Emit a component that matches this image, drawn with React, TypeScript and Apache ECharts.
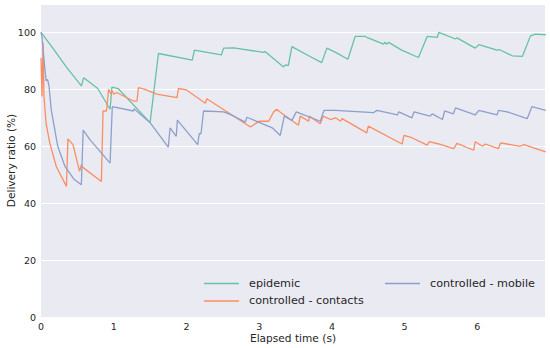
import React, { useEffect, useRef } from "react";
import * as echarts from "echarts";

const xTicks = [0, 1, 2, 3, 4, 5, 6];
const yTicks = [0, 20, 40, 60, 80, 100];

const epidemic: [number, number][] = [
  [0, 100], [0.14, 95.3], [0.35, 87.8], [0.555, 81.2], [0.587, 84.1], [0.78, 80.3],
  [0.95, 73], [0.975, 80.8], [1.06, 80.3], [1.5, 68.3], [1.615, 92.6], [2.08, 90.3],
  [2.11, 93.8], [2.48, 92.1], [2.51, 94.5], [2.65, 94.6], [3.06, 93], [3.08, 93.3],
  [3.335, 87.9], [3.36, 88.6], [3.4, 88.3], [3.45, 95], [3.68, 91.8], [3.86, 89.4],
  [3.93, 94.5], [4.05, 93], [4.22, 90.6], [4.32, 98.6], [4.46, 98.6], [4.48, 98.3],
  [4.71, 95.9], [4.73, 96.6], [4.75, 95.9], [4.78, 96.5], [4.96, 93.8], [5.19, 91.2],
  [5.31, 98.6], [5.45, 98.3], [5.47, 100], [5.7, 97.7], [5.72, 98.1], [5.97, 94.5],
  [6.02, 95.7], [6.27, 93.8], [6.3, 94], [6.48, 91.8], [6.62, 91.6], [6.73, 98.8],
  [6.8, 99.4], [6.94, 99.2],
];

const contacts: [number, number][] = [
  [0, 91], [0.014, 77.5], [0.028, 96.5], [0.04, 78], [0.07, 68], [0.12, 61.2],
  [0.21, 52.9], [0.35, 45.9], [0.37, 62.6], [0.44, 60.6], [0.53, 51.2], [0.555, 53.5],
  [0.58, 52.5], [0.83, 47.6], [0.853, 72.4], [0.9, 72.4], [0.93, 80], [0.96, 78.5],
  [0.98, 79.5], [1.0, 78.3], [1.04, 78.9], [1.27, 75.9], [1.32, 75.9], [1.34, 80.6],
  [1.43, 80], [1.59, 78.3], [1.87, 77.1], [1.89, 80.3], [2.0, 79.8], [2.26, 75.1],
  [2.28, 76.7], [2.88, 66.8], [3.0, 68.8], [3.13, 68.8], [3.2, 72.1], [3.24, 73],
  [3.3, 71.8], [3.54, 67.4], [3.565, 70.6], [3.68, 68.8], [3.69, 70.6], [3.84, 67.9],
  [3.88, 70.6], [3.98, 69.4], [4.05, 70], [4.12, 68.8], [4.14, 69.7], [4.48, 64.7],
  [4.5, 67.1], [4.965, 60.8], [4.99, 63.8], [5.1, 63], [5.31, 60.4], [5.34, 61.6],
  [5.47, 60.8], [5.675, 59.2], [5.72, 61], [5.95, 58.6], [5.97, 61.6], [6.07, 60],
  [6.11, 60.8], [6.29, 59.2], [6.32, 61.2], [6.59, 60], [6.64, 60.6], [6.94, 58],
];

const mobile: [number, number][] = [
  [0, 100], [0.014, 98.3], [0.05, 88], [0.07, 83], [0.09, 83.5], [0.11, 81.2],
  [0.14, 73], [0.23, 60], [0.33, 52.9], [0.45, 48.5], [0.555, 46.5], [0.58, 65.7],
  [0.67, 62.4], [0.95, 54.1], [0.98, 73.9], [1.27, 72.4], [1.28, 73.2], [1.5, 68.3],
  [1.75, 59.7], [1.775, 66.5], [1.86, 63.5], [1.875, 69.2], [2.155, 60.6], [2.175, 64.4],
  [2.2, 64.4], [2.235, 72.4], [2.51, 72.1], [2.6, 71.2], [2.81, 68.5], [2.83, 70.2],
  [3.18, 66.5], [3.29, 63.8], [3.345, 70.6], [3.45, 69.1], [3.51, 72.1], [3.84, 68.8],
  [3.89, 72.6], [4.05, 72.6], [4.57, 71.8], [4.62, 72.6], [4.9, 71], [4.92, 72.1],
  [5.1, 70], [5.13, 72.1], [5.35, 70.6], [5.38, 71.4], [5.52, 69.4], [5.55, 72.4],
  [5.67, 71.4], [5.7, 73.5], [5.97, 71], [6.02, 72.6], [6.27, 71], [6.29, 72.6],
  [6.41, 72.1], [6.685, 69.7], [6.75, 73.9], [6.94, 72.6],
];

const seriesNames = ["epidemic", "controlled - contacts", "controlled - mobile"];
const seriesColors = ["#66c2a5", "#fc8d62", "#8da0cb"];

export default function App() {
  const ref = useRef<HTMLDivElement>(null);
  useEffect(() => {
    if (!ref.current) return;
    const chart = echarts.init(ref.current, null, { renderer: "svg" });
    const font = "DejaVu Sans";
    const textColor = "#262626";
    const legendBase = {
      orient: "vertical" as const,
      icon: "rect",
      padding: 0,
      itemWidth: 35,
      itemHeight: 1.5,
      itemGap: 4.4,
      textStyle: {
        fontFamily: font,
        fontSize: 11.2,
        color: textColor,
        lineHeight: 13,
        padding: [0, 0, 0, 5],
      },
    };
    chart.setOption({
      animation: false,
      color: seriesColors,
      grid: {
        left: 41,
        right: 5,
        top: 4,
        bottom: 31,
        show: true,
        backgroundColor: "#EAEAF2",
        borderWidth: 0,
        outerBoundsMode: "none",
        containLabel: false,
      },
      legend: [
        { ...legendBase, data: [seriesNames[0], seriesNames[1]], left: 204, top: 277 },
        { ...legendBase, data: [seriesNames[2]], left: 385, top: 277 },
      ],
      xAxis: {
        type: "value",
        min: 0,
        max: 6.93,
        interval: 1,
        name: "Elapsed time (s)",
        nameLocation: "middle",
        nameGap: 15,
        nameMoveOverlap: false,
        nameTextStyle: { fontFamily: font, fontSize: 10.6, color: textColor },
        axisLine: { show: false },
        axisTick: { show: false },
        splitLine: { show: false },
        axisLabel: {
          fontFamily: font,
          fontSize: 9.5,
          color: textColor,
          margin: 4,
          showMaxLabel: false,
          formatter: (v: number) => (xTicks.includes(v) ? String(v) : ""),
        },
      },
      yAxis: {
        type: "value",
        min: 0,
        max: 110,
        interval: 20,
        name: "Delivery ratio (%)",
        nameLocation: "middle",
        nameGap: 25,
        nameMoveOverlap: false,
        nameTextStyle: { fontFamily: font, fontSize: 10.6, color: textColor },
        axisLine: { show: false },
        axisTick: { show: false },
        splitLine: { show: true, lineStyle: { color: "#ffffff", width: 1 } },
        axisLabel: {
          fontFamily: font,
          fontSize: 9.5,
          color: textColor,
          margin: 5,
          showMaxLabel: false,
          formatter: (v: number) => (yTicks.includes(v) ? String(v) : ""),
        },
      },
      series: [epidemic, contacts, mobile].map((d, i) => ({
        name: seriesNames[i],
        type: "line",
        data: d,
        showSymbol: false,
        symbol: "none",
        lineStyle: { width: 1.3, color: seriesColors[i] },
        itemStyle: { color: seriesColors[i] },
      })),
    });
    return () => chart.dispose();
  }, []);
  return <div ref={ref} style={{ width: 550, height: 348, position: "absolute", left: 0, top: 0 }} />;
}
